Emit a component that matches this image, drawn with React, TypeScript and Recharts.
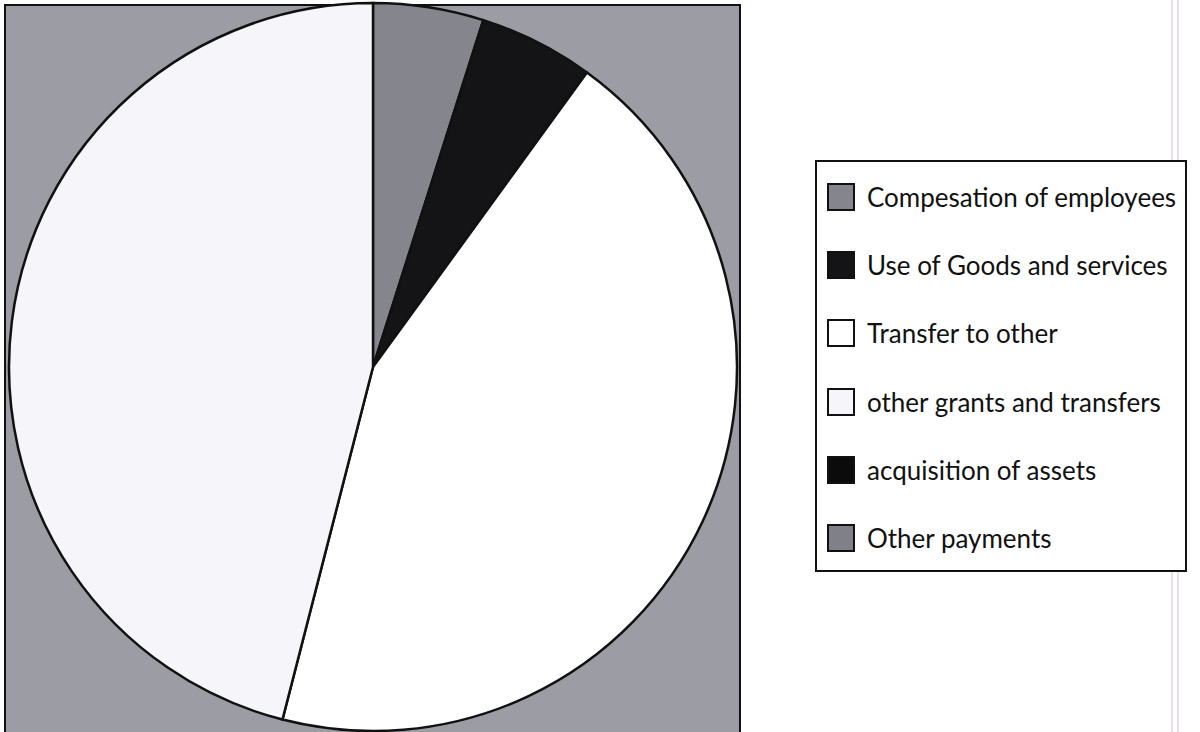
import { Legend, Pie, PieChart } from "recharts";

const categories = [
  "Compesation of employees",
  "Use of Goods and services",
  "Transfer to other",
  "other grants and transfers",
  "acquisition of assets",
  "Other payments",
];
const shares = [4.9, 5.1, 44.0, 46.0, 0, 0];
const fills = ["#85858e", "#141417", "#ffffff", "#f5f5fa", "#0b0b0b", "#808088"];

const data = categories.map((name, i) => ({ name, value: shares[i], fill: fills[i] }));

function LegendBox() {
  return (
    <div
      style={{
        width: 372,
        height: 412,
        border: "2px solid #111",
        background: "#fff",
        boxSizing: "border-box",
        paddingTop: 1,
        paddingLeft: 10,
      }}
    >
      {data.map((d) => (
        <div
          key={d.name}
          style={{ display: "flex", alignItems: "center", height: 68.2 }}
        >
          <div
            style={{
              width: 24,
              height: 24,
              background: d.fill,
              border: "2px solid #111",
              marginRight: 12,
            }}
          />
          <span style={{ fontFamily: "Lato", fontSize: 26, color: "#111", whiteSpace: "nowrap" }}>
            {d.name}
          </span>
        </div>
      ))}
    </div>
  );
}

export default function App() {
  return (
    <div style={{ position: "fixed", left: 0, top: 0, width: 1200, height: 732, background: "#fff", overflow: "hidden" }}>
      <div
        style={{
          position: "absolute",
          left: 4,
          top: 4,
          width: 737,
          height: 740,
          background: "#9c9ca5",
          border: "2px solid #111",
          boxSizing: "border-box",
        }}
      />
      <div style={{ position: "absolute", left: 1171, top: 0, width: 2, height: 732, background: "#eadff0" }} />
      <div style={{ position: "absolute", left: 1177, top: 0, width: 2, height: 732, background: "#eadff0" }} />
      <div style={{ position: "absolute", left: 0, top: 0 }}>
        <PieChart width={1200} height={732} margin={{ top: 0, right: 0, bottom: 0, left: 0 }}>
          <Pie
            data={data}
            dataKey="value"
            nameKey="name"
            cx={373}
            cy={367}
            outerRadius={364}
            startAngle={90}
            endAngle={-270}
            stroke="#111"
            strokeWidth={2.5}
            isAnimationActive={false}
          />
          <Legend
            layout="vertical"
            content={() => <LegendBox />}
            wrapperStyle={{ left: 815, top: 160, width: 372 }}
          />
        </PieChart>
      </div>
    </div>
  );
}
